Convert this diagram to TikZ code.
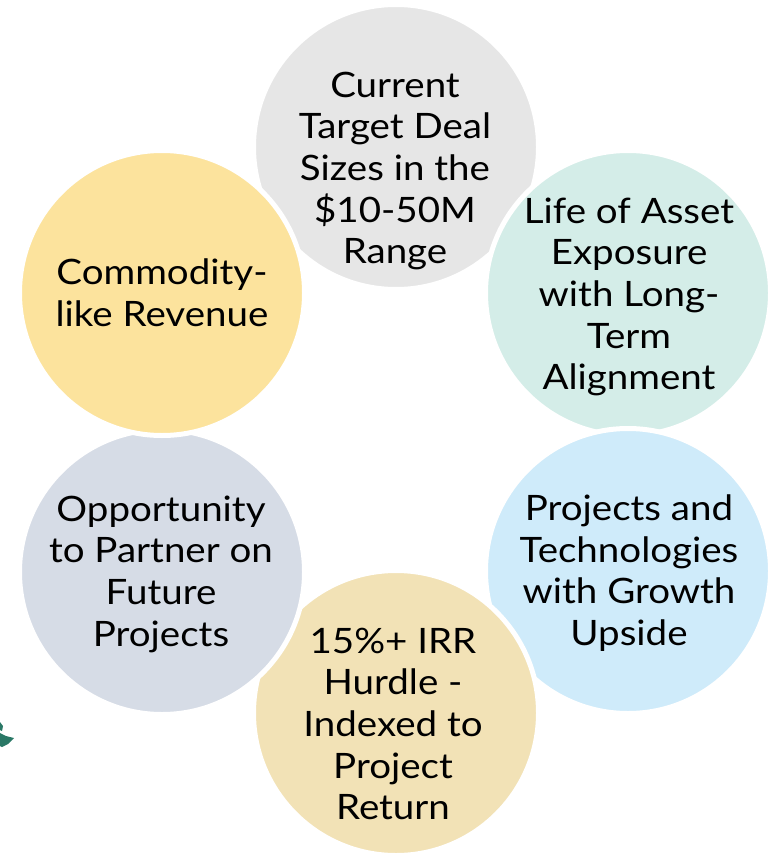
\documentclass[tikz,border=0pt]{standalone}
\usepackage{fontspec}
\setmainfont{Lato}[FakeStretch=1.1]
\definecolor{cgray}{HTML}{E6E6E6}
\definecolor{cteal}{HTML}{D4EDE8}
\definecolor{cblue}{HTML}{CFEBFA}
\definecolor{ctan}{HTML}{F2E2B6}
\definecolor{cslate}{HTML}{D6DCE6}
\definecolor{cyellow}{HTML}{FCE39D}
\definecolor{cleaf}{HTML}{2A7866}
\tikzset{
  circ/.style={circle, draw=white, line width=5pt, minimum size=285pt, inner sep=0pt},
  lbl/.style={align=center, text=black, inner sep=0pt, font=\fontsize{35}{41.7}\selectfont}
}
\begin{document}
\begin{tikzpicture}[x=1pt,y=-1pt]
\useasboundingbox (0,0) rectangle (779,853);
\fill[white] (0,0) rectangle (779,853);
% circles in stacking order
\node[circ, fill=cgray]   (c1) at (396,147) {};
\node[circ, fill=cteal]   (c2) at (628,293) {};
\node[circ, fill=cblue]   (c3) at (628,571) {};
\node[circ, fill=ctan]    (c4) at (396,713) {};
\node[circ, fill=cslate]  (c5) at (162,572) {};
\node[circ, fill=cyellow] (c6) at (162,293) {};
% labels
\node[lbl] (t1) at (395,171) {Current\\Target Deal\\Sizes in the\\\$10-50M\\Range};
\node[lbl] (t2) at (629,297) {Life of Asset\\Exposure\\with Long-\\Term\\Alignment};
\node[lbl] (t3) at (629,573) {Projects and\\Technologies\\with Growth\\Upside};
\node[lbl] (t4) at (393,724) {15\%+ IRR\\Hurdle -\\Indexed to\\Project\\Return};
\node[lbl] (t5) at (161,574) {Opportunity\\to Partner on\\Future\\Projects};
\node[lbl] (t6) at (162,293) {Commodity-\\like Revenue};
% small leaf fragment at the left edge
\fill[cleaf] (0,733) -- (6,736) -- (14,738) -- (8,744) -- (2,747) -- (0,746) -- cycle;
\fill[cleaf] (0,722) -- (3,726) -- (2,731) -- (0,730) -- cycle;
\end{tikzpicture}
\end{document}
